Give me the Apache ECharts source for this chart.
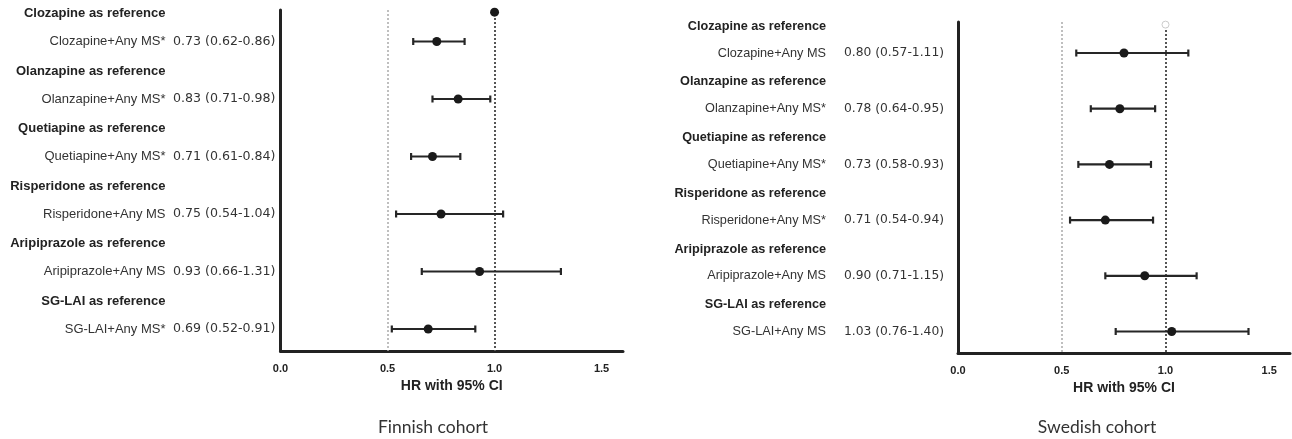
<!DOCTYPE html>
<html>
<head>
<meta charset="utf-8">
<script src="https://cdn.jsdelivr.net/npm/echarts@6/dist/echarts.min.js"></script>
<style>
html,body{margin:0;padding:0;background:#fff;}
#chart{width:1292px;height:439px;}
</style>
</head>
<body>
<div id="chart"></div>
<script>
// ---- data ----
const headers = ['Clozapine as reference','Olanzapine as reference','Quetiapine as reference','Risperidone as reference','Aripiprazole as reference','SG-LAI as reference'];
const finLabels = ['Clozapine+Any MS*','Olanzapine+Any MS*','Quetiapine+Any MS*','Risperidone+Any MS','Aripiprazole+Any MS','SG-LAI+Any MS*'];
const finHR   = [0.73, 0.83, 0.71, 0.75, 0.93, 0.69];
const finLow  = [0.62, 0.71, 0.61, 0.54, 0.66, 0.52];
const finHigh = [0.86, 0.98, 0.84, 1.04, 1.31, 0.91];
const sweLabels = ['Clozapine+Any MS','Olanzapine+Any MS*','Quetiapine+Any MS*','Risperidone+Any MS*','Aripiprazole+Any MS','SG-LAI+Any MS'];
const sweHR   = [0.80, 0.78, 0.73, 0.71, 0.90, 1.03];
const sweLow  = [0.57, 0.64, 0.58, 0.54, 0.71, 0.76];
const sweHigh = [1.11, 0.95, 0.93, 0.94, 1.15, 1.40];
const xTicks = [0, 0.5, 1.0, 1.5];
const refLines = [0.5, 1.0];
const refHR = 1.0;
const cohortTitles = ['Finnish cohort', 'Swedish cohort'];
const axisTitle = 'HR with 95% CI';

// ---- layout helpers ----
const HEAD_OFF = 0.48;
function rowPositions(n){ const p=[]; for(let k=0;k<n;k++){p.push(+(k-HEAD_OFF).toFixed(3)); p.push(k);} return p; }
function labelMap(labels, hr, lo, hi){
  const m = {};
  for(let k=0;k<labels.length;k++){
    m[(k-HEAD_OFF).toFixed(3)] = '{h|' + headers[k] + '}{e| }';
    m[k.toFixed(3)] = '{n|' + labels[k] + '}{v|' + hr[k].toFixed(2) + ' (' + lo[k].toFixed(2) + '-' + hi[k].toFixed(2) + ')}';
  }
  return m;
}
const finMap = labelMap(finLabels, finHR, finLow, finHigh);
const sweMap = labelMap(sweLabels, sweHR, sweLow, sweHigh);

function yAxisDef(gi, min, max, map, fs, vfs, vw, gap, margin){
  return {
    type:'value', gridIndex:gi, inverse:true, min:min, max:max,
    axisLine:{show:true, onZero:false, lineStyle:{color:'#222', width:3}},
    axisTick:{show:false}, splitLine:{show:false},
    axisLabel:{
      show:true, margin:margin, customValues: rowPositions(6),
      formatter: v => map[(+v).toFixed(3)] || '',
      rich:{
        n:{fontFamily:'Liberation Sans, Arial, sans-serif', fontSize:fs, color:'#333'},
        h:{fontFamily:'Liberation Sans, Arial, sans-serif', fontSize:fs, fontWeight:'bold', color:'#222'},
        v:{fontFamily:'DejaVu Sans, sans-serif', fontSize:vfs, color:'#333', width:vw, align:'right', padding:[0,0,0,gap]},
        e:{fontSize:fs, width:vw+gap}
      }
    }
  };
}
function xAxisDef(gi){
  return {
    type:'value', gridIndex:gi, min:0, max:1.6,
    axisLine:{show:true, onZero:false, lineStyle:{color:'#222', width:3}},
    axisTick:{show:false}, splitLine:{show:false},
    axisLabel:{customValues:xTicks, formatter:v=>(+v).toFixed(1), fontFamily:'Liberation Sans, Arial, sans-serif', fontWeight:'bold', fontSize:11, color:'#222', margin:12},
    name:axisTitle, nameLocation:'middle', nameGap:25,
    nameTextStyle:{fontFamily:'Liberation Sans, Arial, sans-serif', fontWeight:'bold', fontSize:14, color:'#222'}
  };
}

function errorSeries(gi, lo, hi){
  return {
    type:'custom', xAxisIndex:gi, yAxisIndex:gi, silent:true, z:3,
    data: lo.map((l,k)=>[l, hi[k], k]),
    encode:{x:[0,1], y:2},
    renderItem:(params, api)=>{
      const a = api.coord([api.value(0), api.value(2)]);
      const b = api.coord([api.value(1), api.value(2)]);
      const c = 3.5;
      const st = {stroke:'#262626', lineWidth:2.2};
      return {type:'group', children:[
        {type:'line', shape:{x1:a[0], y1:a[1], x2:b[0], y2:b[1]}, style:st},
        {type:'line', shape:{x1:a[0], y1:a[1]-c, x2:a[0], y2:a[1]+c}, style:st},
        {type:'line', shape:{x1:b[0], y1:b[1]-c, x2:b[0], y2:b[1]+c}, style:st}
      ]};
    }
  };
}
function pointSeries(gi, hr){
  return {
    type:'scatter', xAxisIndex:gi, yAxisIndex:gi, z:4, symbol:'circle', symbolSize:9,
    itemStyle:{color:'#1a1a1a', opacity:1},
    data: hr.map((v,k)=>[v,k]),
    markLine:{
      silent:true, symbol:'none', label:{show:false}, z:2,
      data:[
        {xAxis:refLines[0], lineStyle:{color:'#aaaaaa', width:1.5, type:[2,2]}},
        {xAxis:refLines[1], lineStyle:{color:'#555555', width:2, type:[2,2]}}
      ]
    }
  };
}

const chart = echarts.init(document.getElementById('chart'), null, {renderer:'canvas'});
chart.setOption({
  animation:false,
  backgroundColor:'#fff',
  grid:[
    {left:280.5, right:669, top:10, bottom:88, containLabel:false, outerBoundsMode:'none'},
    {left:958, right:2, top:22, bottom:86, containLabel:false, outerBoundsMode:'none'}
  ],
  xAxis:[xAxisDef(0), xAxisDef(1)],
  yAxis:[
    yAxisDef(0, -0.548, 5.383, finMap, 13, 12.6, 104, 6, 5),
    yAxisDef(1, -0.557, 5.386, sweMap, 12.7, 12.3, 100, 18, 14)
  ],
  series:[
    errorSeries(0, finLow, finHigh),
    pointSeries(0, finHR),
    {type:'scatter', xAxisIndex:0, yAxisIndex:0, z:8, symbolSize:9, itemStyle:{color:'#1a1a1a', opacity:1}, data:[[refHR, -0.51]]},
    errorSeries(1, sweLow, sweHigh),
    pointSeries(1, sweHR),
    {type:'scatter', xAxisIndex:1, yAxisIndex:1, z:8, symbolSize:7, itemStyle:{color:'#fff', borderColor:'#cccccc', borderWidth:1, opacity:1}, data:[[refHR, -0.51]]}
  ],
  graphic:[
    {type:'text', x:433, y:427, style:{text:cohortTitles[0], align:'center', verticalAlign:'middle', fontFamily:'Lato, sans-serif', fontSize:17.5, fill:'#333'}},
    {type:'text', x:1097, y:427, style:{text:cohortTitles[1], align:'center', verticalAlign:'middle', fontFamily:'Lato, sans-serif', fontSize:17.5, fill:'#333'}}
  ]
});
</script>
</body>
</html>
